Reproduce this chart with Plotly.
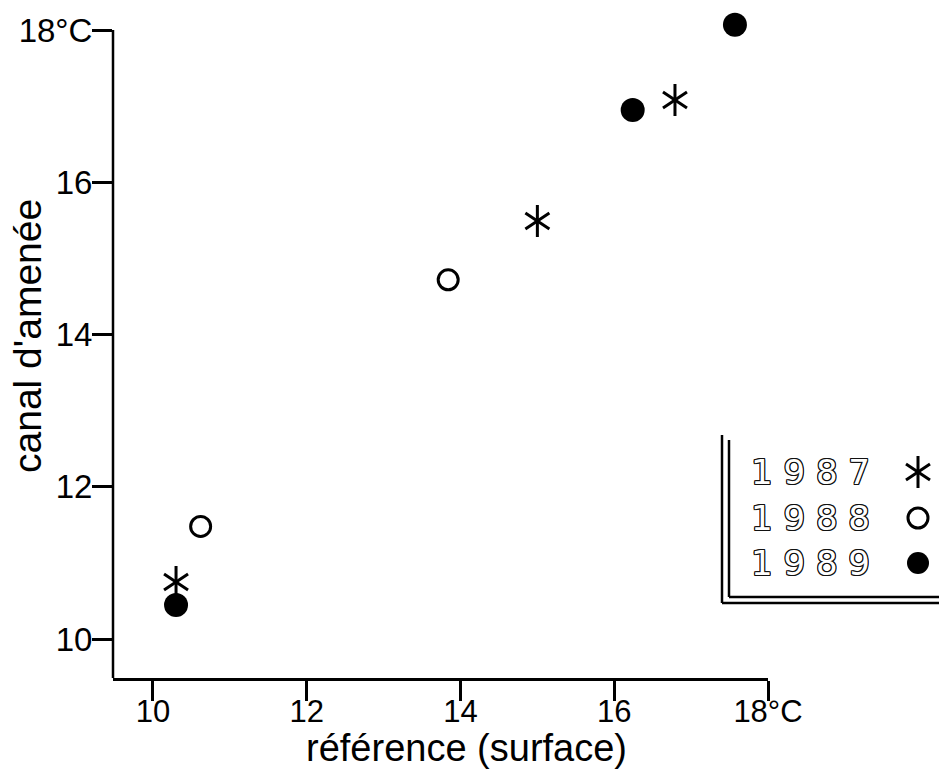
import plotly.graph_objects as go

# ---- data ----
x_1987 = [10.30, 15.00, 16.79]
y_1987 = [10.75, 15.49, 17.08]
x_1988 = [10.62, 13.84]
y_1988 = [11.48, 14.72]
x_1989 = [10.30, 16.24, 17.57]
y_1989 = [10.45, 16.95, 18.07]
tick_vals = [10, 12, 14, 16, 18]
tick_text = ["10", "12", "14", "16", "18°C"]
years = ["1987", "1988", "1989"]
x_title = "référence (surface)"
y_title = "canal d'amenée"

W, H = 939, 771


def px(x):
    return x / W


def py(y):
    return 1 - y / H


FONT = "Liberation Sans, Arial, sans-serif"
BLACK = "#000"

X_MIN, X_MAX = 9.48, 18.0
Y_MIN, Y_AXIS_TOP, Y_MAX = 9.49, 18.0, 18.12
# pixel layout of the plot frame
PX_LEFT, PX_RIGHT = 113, 768
PX_BOTTOM, PX_Y18 = 678, 30
px_per_unit_y = (PX_BOTTOM - PX_Y18) / (Y_AXIS_TOP - Y_MIN)
PX_TOP = PX_Y18 - (Y_MAX - Y_AXIS_TOP) * px_per_unit_y

fig = go.Figure()

# 1987: six-armed asterisk = y-up + y-down overlaid
for sym in ["y-up-open", "y-down-open"]:
    fig.add_trace(go.Scatter(
        x=x_1987, y=y_1987, mode="markers", cliponaxis=False, showlegend=False,
        marker=dict(symbol=sym, size=20, color=BLACK, line=dict(color=BLACK, width=3)),
    ))
fig.add_trace(go.Scatter(
    x=x_1988, y=y_1988, mode="markers", cliponaxis=False, showlegend=False,
    marker=dict(symbol="circle-open", size=20, color=BLACK, line=dict(color=BLACK, width=3)),
))
fig.add_trace(go.Scatter(
    x=x_1989, y=y_1989, mode="markers", cliponaxis=False, showlegend=False,
    marker=dict(symbol="circle", size=24, color=BLACK, line=dict(width=0)),
))

# ---- hand-drawn legend (text left, symbol right) on a pixel-space helper axis ----
leg_rows = [472, 518, 563]
leg_sym_x = 918
leg_syms = [["y-up-open", "y-down-open"], ["circle-open"], ["circle"]]
for yr, row, syms in zip(years, leg_rows, leg_syms):
    for s in syms:
        filled = s == "circle"
        fig.add_trace(go.Scatter(
            x=[leg_sym_x], y=[row], xaxis="x2", yaxis="y2", mode="markers",
            showlegend=False, cliponaxis=False,
            marker=dict(symbol=s, size=22 if filled else 20, color=BLACK,
                        line=dict(color=BLACK, width=0 if filled else 3)),
        ))
    fig.add_annotation(
        x=px(810), y=py(row), xref="paper", yref="paper", showarrow=False,
        text=" ".join(yr), xanchor="center", yanchor="middle",
        font=dict(family="DejaVu Sans, sans-serif", size=34, color="white",
                  shadow="1px 0 0 #111, -1px 0 0 #111, 0 1px 0 #111, 0 -1px 0 #111, "
                         "1px 1px 0 #111, -1px -1px 0 #111, 1px -1px 0 #111, -1px 1px 0 #111"),
    )

# legend frame (double lines on left and bottom)
for (x0, y0, x1, y1) in [(722, 435, 722, 603), (722, 603, 939, 603),
                         (729, 440, 729, 597), (729, 597, 939, 597)]:
    fig.add_shape(type="line", xref="paper", yref="paper",
                  x0=px(x0), y0=py(y0), x1=px(x1), y1=py(y1),
                  line=dict(color=BLACK, width=2.5))

# y axis line: from the bottom of the axis up to the 18 tick only
fig.add_shape(type="line", xref="paper", yref="y",
              x0=px(PX_LEFT), x1=px(PX_LEFT), y0=Y_MIN, y1=Y_AXIS_TOP,
              line=dict(color=BLACK, width=2.5))

# axis titles
fig.add_annotation(x=px(466), y=py(771), xref="paper", yref="paper", showarrow=False,
                   text=x_title, xanchor="center", yanchor="bottom",
                   font=dict(family=FONT, size=38, color=BLACK))
fig.add_annotation(x=px(27), y=py(336), xref="paper", yref="paper", showarrow=False,
                   text=y_title, textangle=-90, xanchor="center", yanchor="middle",
                   font=dict(family=FONT, size=39, color=BLACK))

axis_common = dict(
    showgrid=False, zeroline=False, linecolor=BLACK, linewidth=2.5,
    ticks="outside", ticklen=20, tickwidth=2.5, tickcolor=BLACK, automargin=False,
    tickvals=tick_vals, ticktext=tick_text,
)

fig.update_layout(
    width=W, height=H,
    margin=dict(l=0, r=0, t=0, b=0, pad=0),
    paper_bgcolor="white", plot_bgcolor="rgba(0,0,0,0)",
    showlegend=False,
    xaxis=dict(domain=[px(PX_LEFT), px(PX_RIGHT)], range=[X_MIN, X_MAX], anchor="y",
               showline=True, ticklabelstandoff=-16,
               tickfont=dict(family=FONT, size=31, color=BLACK), **axis_common),
    yaxis=dict(domain=[py(PX_BOTTOM), py(PX_TOP)], range=[Y_MIN, Y_MAX], anchor="x",
               showline=False, ticklabelstandoff=-7,
               tickfont=dict(family=FONT, size=33, color=BLACK), **axis_common),
    xaxis2=dict(domain=[0, 1], range=[0, W], anchor="y2", visible=False,
                fixedrange=True, automargin=False),
    yaxis2=dict(domain=[0, 1], range=[H, 0], anchor="x2", visible=False,
                fixedrange=True, automargin=False),
)

fig.write_html("out.html")
